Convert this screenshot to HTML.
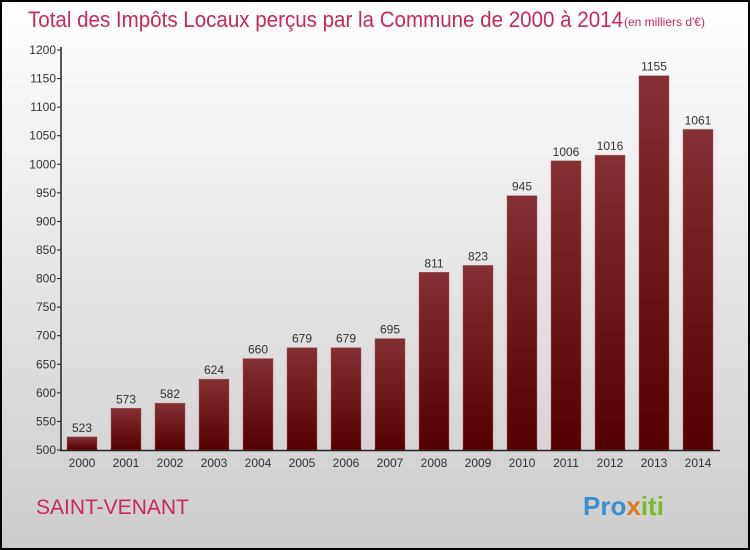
<!DOCTYPE html>
<html><head><meta charset="utf-8"><style>
body{margin:0;}
svg{display:block;font-family:"Liberation Sans",sans-serif;}
</style></head><body>
<svg id="chart" width="750" height="550" viewBox="0 0 750 550">
<defs>
<linearGradient id="bg" x1="0" y1="0" x2="0" y2="1"><stop offset="0" stop-color="#ffffff"/><stop offset="1" stop-color="#cccccc"/></linearGradient>
<linearGradient id="bar" x1="0" y1="0" x2="0" y2="1"><stop offset="0" stop-color="#843034"/><stop offset="1" stop-color="#540000"/></linearGradient>
</defs>
<rect x="1" y="1" width="748" height="548" fill="url(#bg)" stroke="#000" stroke-width="2"/>
<text x="28" y="27" font-size="22" fill="#c8285a" textLength="595" lengthAdjust="spacingAndGlyphs">Total des Impôts Locaux perçus par la Commune de 2000 à 2014</text>
<text x="624" y="26" font-size="12" fill="#c8285a">(en milliers d'€)</text>
<g id="yaxis"></g>
<g id="bars"></g>
<line x1="61" y1="47" x2="61" y2="451" stroke="#222" stroke-width="1.5"/>
<line x1="60" y1="450.5" x2="720" y2="450.5" stroke="#222" stroke-width="1.5"/>
<text x="36" y="514" font-size="21" fill="#c8285a">SAINT-VENANT</text>
<text x="583" y="515" font-size="26" font-weight="bold"><tspan fill="#3a8fd0">Pro</tspan><tspan fill="#e07a1a">x</tspan><tspan fill="#7ab830">iti</tspan></text>
</svg>
<script>
const categories=["2000","2001","2002","2003","2004","2005","2006","2007","2008","2009","2010","2011","2012","2013","2014"];
const values=[523,573,582,624,660,679,679,695,811,823,945,1006,1016,1155,1061];
const yTicks=[500,550,600,650,700,750,800,850,900,950,1000,1050,1100,1150,1200];
const NS="http://www.w3.org/2000/svg";
function y(v){return 450-(v-500)*400/700;}
function x(i){return 82+i*44;}
function mk(t,a,p,txt){const e=document.createElementNS(NS,t);for(const k in a)e.setAttribute(k,a[k]);if(txt!==undefined)e.textContent=txt;p.appendChild(e);return e;}
const ya=document.getElementById('yaxis');
yTicks.forEach(t=>{
 const l=mk('line',{x1:57,x2:61,y1:y(t),y2:y(t),stroke:'#222'},ya);
 
 
 const tx=mk('text',{x:56,y:y(t)+4,'font-size':12,'text-anchor':'end',fill:'#333'},ya,t);
 
 
});
const bg=document.getElementById('bars');
values.forEach((v,i)=>{
 const r=mk('rect',{x:x(i)-15,y:y(v),width:30,height:450-y(v),fill:'url(#bar)',stroke:'#a06066','stroke-width':0.5},bg);
 
 
 const t=mk('text',{x:x(i),y:y(v)-5,'font-size':12,'text-anchor':'middle',fill:'#333'},bg,v);
 
 
 const c=mk('text',{x:x(i),y:467,'font-size':12,'text-anchor':'middle',fill:'#333'},bg,categories[i]);
 
 
});
</script>
</body></html>
